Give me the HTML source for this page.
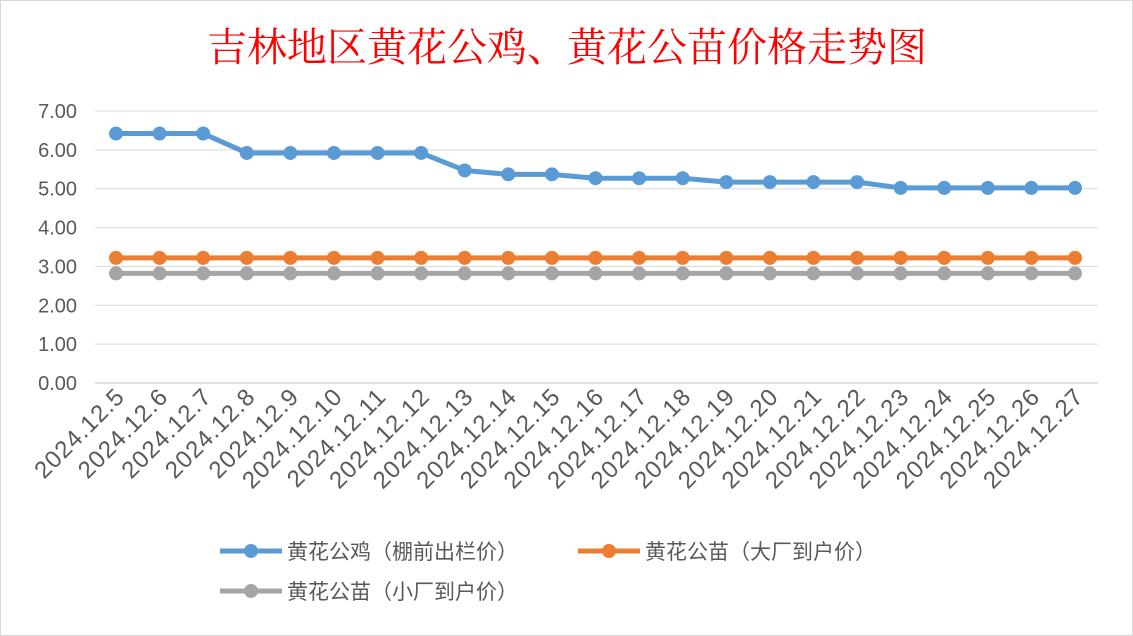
<!DOCTYPE html>
<html><head><meta charset="utf-8"><style>
body{margin:0;background:#fff;}
svg{display:block;font-family:"Liberation Sans","Noto Sans CJK SC",sans-serif;}
</style></head><body>
<svg width="1133" height="636">
<rect x="0.5" y="0.5" width="1132" height="635" fill="#fff" stroke="#d9d9d9"/>
<text x="567" y="61" text-anchor="middle" font-size="40" fill="#ff0000" font-family="'Liberation Serif','Noto Serif CJK SC',serif">吉林地区黄花公鸡、黄花公苗价格走势图</text>
<g id="grid"></g><g id="ylab"></g><g id="xlab"></g><g id="series"></g>
<g>
<g><line x1="220" y1="551" x2="282" y2="551" stroke="#5b9bd5" stroke-width="5"/><circle cx="251" cy="551" r="7" fill="#5b9bd5"/><text x="287" y="559" font-size="21" fill="#595959">黄花公鸡（棚前出栏价）</text></g>
<g><line x1="578" y1="551" x2="640" y2="551" stroke="#ed7d31" stroke-width="5"/><circle cx="609" cy="551" r="7" fill="#ed7d31"/><text x="645" y="559" font-size="21" fill="#595959">黄花公苗（大厂到户价）</text></g>
<g><line x1="220" y1="591" x2="282" y2="591" stroke="#a5a5a5" stroke-width="5"/><circle cx="251" cy="591" r="7" fill="#a5a5a5"/><text x="287" y="599" font-size="21" fill="#595959">黄花公苗（小厂到户价）</text></g>
</g>
</svg>
<script>
const categories=["2024.12.5","2024.12.6","2024.12.7","2024.12.8","2024.12.9","2024.12.10","2024.12.11","2024.12.12","2024.12.13","2024.12.14","2024.12.15","2024.12.16","2024.12.17","2024.12.18","2024.12.19","2024.12.20","2024.12.21","2024.12.22","2024.12.23","2024.12.24","2024.12.25","2024.12.26","2024.12.27"];
const roosterPrice=[6.42,6.42,6.42,5.92,5.92,5.92,5.92,5.92,5.47,5.37,5.37,5.27,5.27,5.27,5.17,5.17,5.17,5.17,5.02,5.02,5.02,5.02,5.02];
const chickLargePrice=[3.22,3.22,3.22,3.22,3.22,3.22,3.22,3.22,3.22,3.22,3.22,3.22,3.22,3.22,3.22,3.22,3.22,3.22,3.22,3.22,3.22,3.22,3.22];
const chickSmallPrice=[2.82,2.82,2.82,2.82,2.82,2.82,2.82,2.82,2.82,2.82,2.82,2.82,2.82,2.82,2.82,2.82,2.82,2.82,2.82,2.82,2.82,2.82,2.82];
const yTicks=["0.00","1.00","2.00","3.00","4.00","5.00","6.00","7.00"];
const NS="http://www.w3.org/2000/svg";
const y0=383,yTop=111,yMax=7,xFirst=116,xLast=1075;
function yScale(v){return y0-(v/yMax)*(y0-yTop);}
function xScale(i){return xFirst+i*(xLast-xFirst)/(categories.length-1);}
function mk(t,a,p){const e=document.createElementNS(NS,t);for(const k in a)e.setAttribute(k,a[k]);p.appendChild(e);return e;}
const grid=document.getElementById('grid'),ylab=document.getElementById('ylab'),xlab=document.getElementById('xlab'),ser=document.getElementById('series');
yTicks.forEach(t=>{const v=parseFloat(t),y=yScale(v);
const l=mk('line',{x1:95,x2:1098,y1:y,y2:y,stroke:v===0?'#bfbfbf':'#d9d9d9','stroke-width':1},grid);


const tx=mk('text',{x:77,y:y+7,'text-anchor':'end','font-size':20,fill:'#595959'},ylab);tx.textContent=t;

});
categories.forEach((c,i)=>{const x=xScale(i)+10,y=398;
const tx=mk('text',{x:x,y:y,'text-anchor':'end','font-size':24,'letter-spacing':1,fill:'#595959',transform:`rotate(-45 ${x} ${y})`},xlab);tx.textContent=c;

});
function drawSeries(vals,color,name){const g=mk('g',{},ser);


mk('polyline',{points:vals.map((v,i)=>xScale(i)+','+yScale(v)).join(' '),fill:'none',stroke:color,'stroke-width':5,'stroke-linejoin':'round'},g);
vals.forEach((v,i)=>{const c=mk('circle',{cx:xScale(i),cy:yScale(v),r:7,fill:color},g);

});}
drawSeries(chickSmallPrice,'#a5a5a5','series-chick-small');
drawSeries(chickLargePrice,'#ed7d31','series-chick-large');
drawSeries(roosterPrice,'#5b9bd5','series-rooster');
</script>
</body></html>
